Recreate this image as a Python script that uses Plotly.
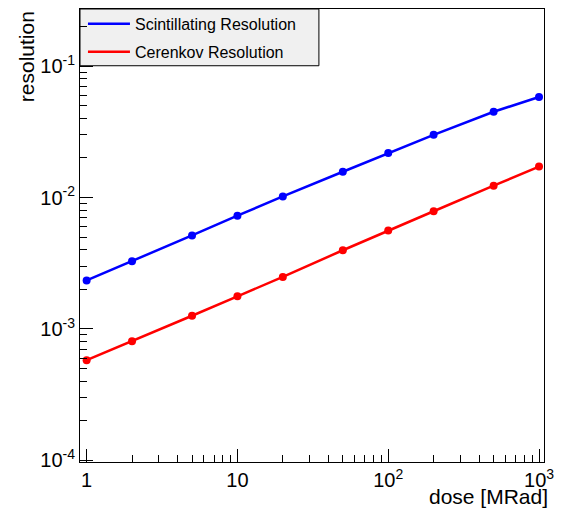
import plotly.graph_objects as go

dose = [1, 2, 5, 10, 20, 50, 100, 200, 500, 1000]
scint_res = [0.00234, 0.00327, 0.00515, 0.00727, 0.0102, 0.0157, 0.0218, 0.0300, 0.0449, 0.0582]
ceren_res = [0.000579, 0.000807, 0.00126, 0.00177, 0.00249, 0.00397, 0.00561, 0.00786, 0.0123, 0.0172]

x_tickvals = [1, 10, 100, 1000]
x_ticktext = ["1", "10", "10<sup>2</sup>", "10<sup>3</sup>"]
y_tickvals = [1e-4, 1e-3, 1e-2, 1e-1]
y_ticktext = ["10<sup>-4</sup>", "10<sup>-3</sup>", "10<sup>-2</sup>", "10<sup>-1</sup>"]

x_minor = [m * 10 ** d for d in range(-1, 4) for m in range(2, 10)]
y_minor = [m * 10.0 ** d for d in range(-5, 0) for m in range(2, 10)]

FONT = "Liberation Sans, Arial, Helvetica, sans-serif"
BLUE, RED = "#0000ff", "#ff0000"

fig = go.Figure()
fig.add_trace(go.Scatter(
    x=dose, y=scint_res, mode="lines+markers", name="Scintillating Resolution",
    line=dict(color=BLUE, width=2.5), marker=dict(color=BLUE, size=8),
    showlegend=False))
fig.add_trace(go.Scatter(
    x=dose, y=ceren_res, mode="lines+markers", name="Cerenkov Resolution",
    line=dict(color=RED, width=2.5), marker=dict(color=RED, size=8),
    showlegend=False))
# legend entries (line only, as in the reference)
fig.add_trace(go.Scatter(x=[None], y=[None], mode="lines", name="Scintillating Resolution",
                         line=dict(color=BLUE, width=2.5), legend="legend"))
fig.add_trace(go.Scatter(x=[None], y=[None], mode="lines", name="Cerenkov Resolution",
                         line=dict(color=RED, width=2.5), legend="legend2"))

W, H = 561, 509
L, R, T, B = 80, 11, 7, 47
pw, ph = W - L - R, H - T - B

def px_to_paper_x(px):
    return (px - L) / pw

def px_to_paper_y(py):
    return (H - B - py) / ph

axis_common = dict(
    showline=True, linecolor="black", linewidth=1, mirror=True,
    ticks="inside", ticklen=13, tickwidth=1, tickcolor="black",
    showgrid=False, zeroline=False,
    tickfont=dict(family=FONT, size=20, color="black"),
)

fig.update_xaxes(type="log", range=[-0.044, 3.033], tickmode="array",
                 tickvals=x_tickvals, ticktext=x_ticktext,
                 minor=dict(tickmode="array", tickvals=x_minor, ticks="inside",
                            ticklen=7, tickcolor="black", showgrid=False),
                 **axis_common)
fig.update_yaxes(type="log", range=[-4.012, -0.566], tickmode="array",
                 tickvals=y_tickvals, ticktext=y_ticktext,
                 minor=dict(tickmode="array", tickvals=y_minor, ticks="inside",
                            ticklen=7, tickcolor="black", showgrid=False),
                 **axis_common)

legend_font = dict(family=FONT, size=16, color="black")
leg_common = dict(xanchor="left", yanchor="middle", bgcolor="rgba(0,0,0,0)",
                  borderwidth=0, font=legend_font, itemwidth=42)
fig.update_layout(
    width=W, height=H,
    margin=dict(l=L, r=R, t=T, b=B),
    paper_bgcolor="white", plot_bgcolor="rgba(0,0,0,0)",
    font=dict(family=FONT, color="black"),
    legend=dict(x=px_to_paper_x(83), y=px_to_paper_y(22), **leg_common),
    legend2=dict(x=px_to_paper_x(83), y=px_to_paper_y(50), **leg_common),
    shapes=[dict(type="rect", xref="paper", yref="paper",
                 x0=0, x1=px_to_paper_x(322), y0=px_to_paper_y(64), y1=1,
                 fillcolor="#f0f0f0", line=dict(color="black", width=1), layer="below")],
    annotations=[
        dict(text="resolution", xref="paper", yref="paper", x=px_to_paper_x(26), y=1,
             xanchor="center", yanchor="top", textangle=-90, showarrow=False,
             font=dict(family=FONT, size=21, color="black")),
        dict(text="dose [MRad]", xref="paper", yref="paper", x=px_to_paper_x(556),
             y=px_to_paper_y(497), xanchor="right", yanchor="middle", showarrow=False,
             font=dict(family=FONT, size=21, color="black")),
    ],
)

fig.write_html("out.html")
